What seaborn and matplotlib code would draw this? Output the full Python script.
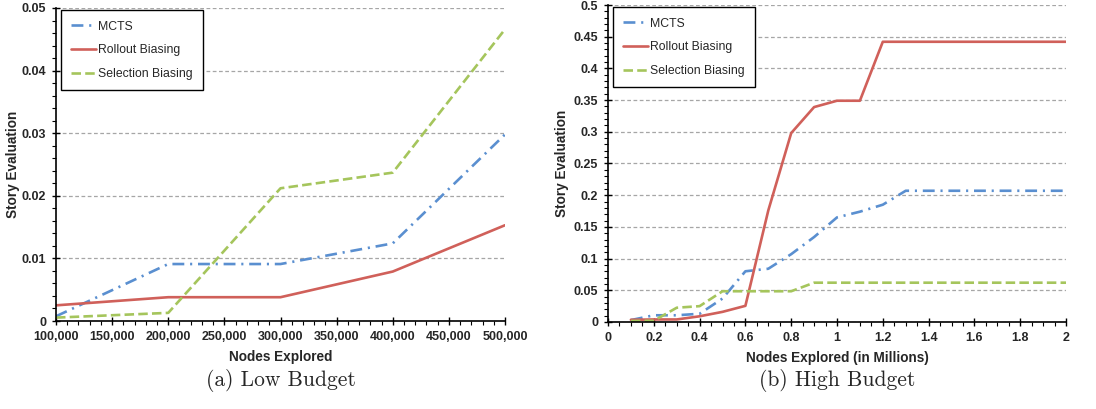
import numpy as np
import pandas as pd
import matplotlib
matplotlib.use("Agg")
import matplotlib.pyplot as plt
import seaborn as sns
from matplotlib.ticker import MultipleLocator, FuncFormatter

# ---------------- data ----------------
series_names = ["MCTS", "Rollout Biasing", "Selection Biasing"]

low_nodes = [100000, 200000, 300000, 400000, 500000]
low_mcts = [0.00075, 0.0091, 0.0091, 0.0124, 0.0298]
low_rollout = [0.0025, 0.0038, 0.0038, 0.0079, 0.0153]
low_selection = [0.00054, 0.0013, 0.0212, 0.0237, 0.0466]

high_nodes = [0.1, 0.2, 0.3, 0.4, 0.5, 0.6, 0.7, 0.8, 0.9, 1.0,
              1.1, 1.2, 1.3, 1.4, 1.5, 1.6, 1.7, 1.8, 1.9, 2.0]
high_mcts = [0.003, 0.0106, 0.0106, 0.013, 0.037, 0.080, 0.084, 0.107, 0.134, 0.165,
             0.174, 0.185, 0.207, 0.207, 0.207, 0.207, 0.207, 0.207, 0.207, 0.207]
high_rollout = [0.0035, 0.004, 0.004, 0.009, 0.016, 0.0255, 0.176, 0.298, 0.339, 0.349,
                0.349, 0.442, 0.442, 0.442, 0.442, 0.442, 0.442, 0.442, 0.442, 0.442]
high_selection = [0.0016, 0.002, 0.0225, 0.025, 0.0485, 0.0485, 0.0485, 0.0485, 0.062, 0.062,
                  0.062, 0.062, 0.062, 0.062, 0.062, 0.062, 0.062, 0.062, 0.062, 0.062]

captions = ["(a) Low Budget", "(b) High Budget"]
xlabels = ["Nodes Explored", "Nodes Explored (in Millions)"]
ylabel = "Story Evaluation"

# ---------------- style ----------------
sns.set_theme(style="white")
plt.rcParams["font.family"] = ["Liberation Sans", "DejaVu Sans"]

colors = {"MCTS": "#5a8fd0", "Rollout Biasing": "#d0605a", "Selection Biasing": "#a5c55c"}
styles = {"MCTS": (0, (4.5, 2.2, 0.8, 2.2)), "Rollout Biasing": "-",
          "Selection Biasing": (0, (3.6, 1.6))}
LW = 1.9

fig = plt.figure(figsize=(10.96, 4.09), dpi=100)
W, H = 1096, 409


def add_ax(l, r, t, b):
    return fig.add_axes([l / W, 1 - b / H, (r - l) / W, (b - t) / H])


ax1 = add_ax(56, 505, 8, 321)
ax2 = add_ax(608, 1066, 5, 322)


def draw(ax, x, ys):
    frames = []
    for name, y in zip(series_names, ys):
        frames.append(pd.DataFrame({"x": x, "y": y, "series": name}))
    df = pd.concat(frames, ignore_index=True)
    for name in series_names:
        sub = df[df["series"] == name]
        sns.lineplot(data=sub, x="x", y="y", ax=ax, color=colors[name],
                     linestyle=styles[name], linewidth=LW, label=name,
                     estimator=None, sort=False)


draw(ax1, low_nodes, [low_mcts, low_rollout, low_selection])
draw(ax2, high_nodes, [high_mcts, high_rollout, high_selection])

# axes formatting
ax1.set_xlim(100000, 500000)
ax1.set_ylim(0, 0.05)
ax1.xaxis.set_major_locator(MultipleLocator(50000))
ax1.xaxis.set_minor_locator(MultipleLocator(10000))
ax1.yaxis.set_major_locator(MultipleLocator(0.01))
ax1.yaxis.set_minor_locator(MultipleLocator(0.002))
ax1.xaxis.set_major_formatter(FuncFormatter(lambda v, p: f"{int(round(v)):,}"))
ax1.yaxis.set_major_formatter(FuncFormatter(lambda v, p: f"{v:g}"))

ax2.set_xlim(0, 2)
ax2.set_ylim(0, 0.5)
ax2.xaxis.set_major_locator(MultipleLocator(0.2))
ax2.xaxis.set_minor_locator(MultipleLocator(0.05))
ax2.yaxis.set_major_locator(MultipleLocator(0.05))
ax2.yaxis.set_minor_locator(MultipleLocator(0.01))
ax2.xaxis.set_major_formatter(FuncFormatter(lambda v, p: f"{round(v, 2):g}"))
ax2.yaxis.set_major_formatter(FuncFormatter(lambda v, p: f"{round(v, 3):g}"))

for ax, xl, cap, ylp in zip([ax1, ax2], xlabels, captions, [1.5, 3.5]):
    for s in ["top", "right"]:
        ax.spines[s].set_visible(False)
    for s in ["left", "bottom"]:
        ax.spines[s].set_color("black")
        ax.spines[s].set_linewidth(1.2)
    ax.grid(False)
    ax.yaxis.grid(True, which="major", color="#a6a6a6", linestyle=(0, (3, 2)), linewidth=0.9)
    ax.set_axisbelow(True)
    ax.tick_params(which="major", direction="inout", length=6, width=1, color="black",
                   labelsize=9, pad=4, bottom=True, left=True)
    ax.tick_params(which="minor", direction="out", length=3, width=0.8, color="black",
                   bottom=True, left=True)
    for lab in ax.get_xticklabels() + ax.get_yticklabels():
        lab.set_fontweight("bold")
    ax.set_xlabel(xl, fontsize=9.8, fontweight="bold", labelpad=5)
    ax.set_ylabel(ylabel, fontsize=9.8, fontweight="bold", labelpad=ylp)

    leg = ax.legend(loc="upper left", bbox_to_anchor=(0.011, 0.993), fontsize=8.8,
                    frameon=True, fancybox=False, shadow=False, framealpha=1,
                    edgecolor="black", handlelength=2.05, handletextpad=0.1,
                    labelspacing=0.95, borderpad=0.85, borderaxespad=0)
    leg.get_frame().set_linewidth(1.0)

    pos = ax.get_position()
    fig.text((pos.x0 + pos.x1) / 2, 1 - 380 / H, cap, ha="center", va="center",
             fontsize=15.5, family=["cmr10", "DejaVu Serif"])

fig.savefig("out.png", dpi=100)
